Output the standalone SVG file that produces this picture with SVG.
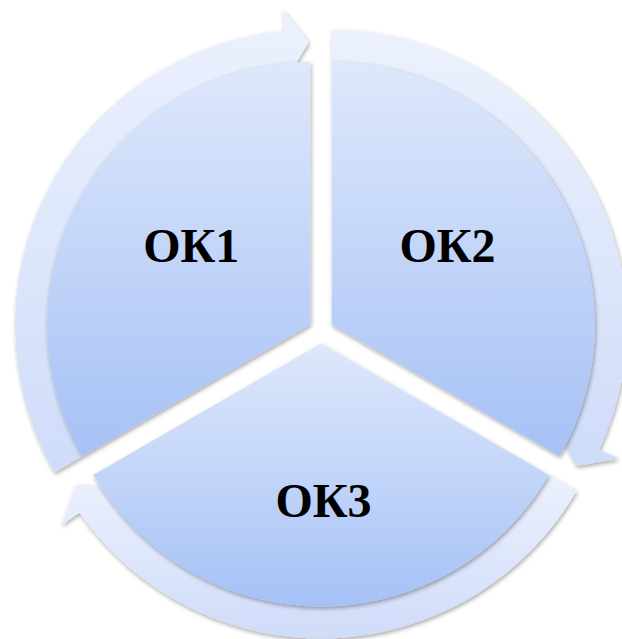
<svg xmlns="http://www.w3.org/2000/svg" width="622" height="639" viewBox="0 0 622 639">
  <style>
    .pie { fill: url(#pieGrad); filter: url(#shadow); }
    .band { fill: url(#bandGrad); filter: url(#shadow); }
    .label { font-family: "Liberation Serif", "Times New Roman", serif; font-weight: bold; font-size: 48px; fill: #000000; text-anchor: middle; }
  </style>
  <defs>
    <linearGradient id="pieGrad" x1="0" y1="0" x2="0" y2="1">
      <stop offset="0" stop-color="#dee8fb"/>
      <stop offset="1" stop-color="#a6c1f6"/>
    </linearGradient>
    <linearGradient id="bandGrad" x1="0" y1="0" x2="0" y2="1">
      <stop offset="0" stop-color="#ecf1fd"/>
      <stop offset="1" stop-color="#cfdcf9"/>
    </linearGradient>
    <filter id="shadow" x="-10%" y="-10%" width="120%" height="120%">
      <feDropShadow dx="1" dy="2" stdDeviation="2" flood-color="#000000" flood-opacity="0.35"/>
    </filter>
  </defs>
  <rect width="622" height="639" fill="#ffffff"/>
  <g id="connectors">
    <path id="arrow-ok1-ok2" class="band" d="M 54.72 472.25 A 295 295 0 0 1 284.49 30.87 L 282.57 8.96 L 308.7 42.3 L 283.96 83.17 L 282.71 63.19 A 263 263 0 0 0 82.43 456.25 Z"/>
    <path id="arrow-ok2-ok3" class="band" d="M 331.8 29.75 A 295 295 0 0 1 599.16 449.42 L 619.10 458.72 L 576.46 466.0 L 554.14 422.81 L 572.06 431.72 A 263 263 0 0 0 331.8 61.75 Z"/>
    <path id="arrow-ok3-ok1" class="band" d="M 576.48 491 A 295 295 0 0 1 79.35 512.70 L 61.33 525.32 L 76.34 484.75 L 124.91 487.02 L 108.23 498.09 A 263 263 0 0 0 548.77 475 Z"/>
  </g>
  <g id="node-ok1">
    <path class="pie" d="M 310.2 324.75 L 82.43 456.25 A 263 263 0 0 1 310.2 61.75 Z"/>
    <text class="label" x="191.3" y="262">ОК1</text>
  </g>
  <g id="node-ok2">
    <path class="pie" d="M 331.8 324.75 L 331.8 61.75 A 263 263 0 0 1 559.57 456.25 Z"/>
    <text class="label" x="447.5" y="262">ОК2</text>
  </g>
  <g id="node-ok3">
    <path class="pie" d="M 321 343.5 L 548.77 475 A 263 263 0 0 1 93.23 475 Z"/>
    <text class="label" x="323.5" y="516.5">ОК3</text>
  </g>
</svg>
